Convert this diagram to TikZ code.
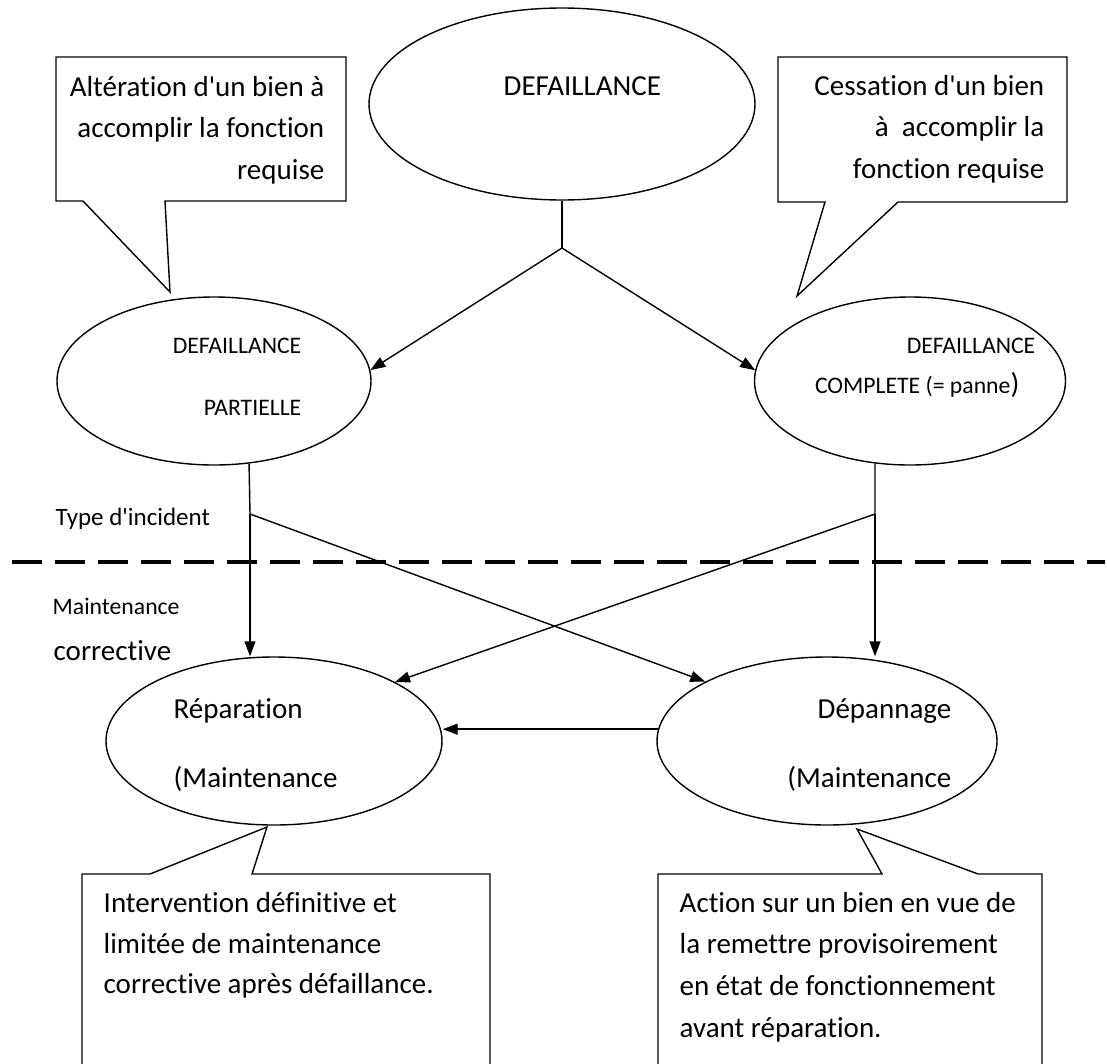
\documentclass[tikz,border=0pt]{standalone}
\usepackage{fontspec}
\setmainfont{Carlito}[Ligatures={NoCommon}]
\usetikzlibrary{arrows.meta,shapes.geometric}
\begin{document}
\begin{tikzpicture}[x=1pt,y=-1pt,
  line width=1.4pt,
  oval/.style={draw,ellipse,inner sep=0pt},
  big/.style={font=\fontsize{29}{41.5}\selectfont,inner sep=0pt},
  small/.style={font=\fontsize{23.7}{28}\selectfont,inner sep=0pt},
  arr/.style={-{Triangle[length=15pt,width=11pt]}},
  sep/.style={line width=4pt,dash pattern=on 30pt off 13pt}]
\useasboundingbox (0,0) rectangle (1107,1063);
\clip (0,0) rectangle (1107,1063);

% ellipses
\node[oval,minimum width=386pt,minimum height=192pt] (top) at (562,104) {};
\node[oval,minimum width=314pt,minimum height=168pt] (mL) at (214,381) {};
\node[oval,minimum width=311pt,minimum height=168pt] (mR) at (910,381) {};
\node[oval,minimum width=336pt,minimum height=168pt] (rep) at (274,741) {};
\node[oval,minimum width=340pt,minimum height=168pt] (dep) at (827,741) {};

% ellipse texts
\node[big,anchor=base west] (tTop) at (503,95) {DEFAILLANCE};
\node[small,anchor=base east] (tL1) at (302,353) {DEFAILLANCE};
\node[small,anchor=base east] (tL2) at (302,415) {PARTIELLE};
\node[small,anchor=base east] (tR1) at (1036,353) {DEFAILLANCE};
\node[small,anchor=base east] (tR2) at (1020,393) {COMPLETE (= panne{\fontsize{29}{35}\selectfont )}};
\node[big,anchor=base west] (tRep1) at (173,718) {Réparation};
\node[big,anchor=base west] (tRep2) at (173,787) {(Maintenance};
\node[big,anchor=base east] (tDep1) at (952,718) {Dépannage};
\node[big,anchor=base east] (tDep2) at (952,787) {(Maintenance};

% callouts
\draw (56,57) -- (346,57) -- (346,201) -- (165,201) -- (170,292) -- (83,201) -- (56,201) -- cycle;
\draw (778,57) -- (1067,57) -- (1067,202) -- (898,202) -- (797,296) -- (825,202) -- (778,202) -- cycle;
\draw (82,874) -- (150,874) -- (267,827) -- (252,874) -- (490,874) -- (490,1090) -- (82,1090) -- cycle;
\draw (658,874) -- (882,874) -- (857,829) -- (978,874) -- (1042,874) -- (1042,1090) -- (658,1090) -- cycle;

\node[big,anchor=base east] (c1a) at (325,96) {Altération d\textquotesingle un bien à};
\node[big,anchor=base east] (c1b) at (325,137) {accomplir la fonction};
\node[big,anchor=base east] (c1c) at (325,179) {requise};
\node[big,anchor=base east] (c2a) at (1045,95) {Cessation d\textquotesingle un bien};
\node[big,anchor=base east] (c2b) at (1045,136) {à\ \ accomplir la};
\node[big,anchor=base east] (c2c) at (1045,178) {fonction requise};
\node[big,anchor=base west] (c3a) at (103,912) {Intervention définitive et};
\node[big,anchor=base west] (c3b) at (103,953) {limitée de maintenance};
\node[big,anchor=base west] (c3c) at (103,993) {corrective après défaillance.};
\node[big,anchor=base west] (c4a) at (679,912) {Action sur un bien en vue de};
\node[big,anchor=base west] (c4b) at (679,953) {la remettre provisoirement};
\node[big,anchor=base west] (c4c) at (679,995) {en état de fonctionnement};
\node[big,anchor=base west] (c4d) at (679,1037) {avant réparation.};

% side labels and separator
\node[small,anchor=base west,font=\fontsize{25}{30}\selectfont] (lType) at (55,525) {Type d\textquotesingle incident};
\node[small,anchor=base west] (lMaint) at (52,614) {Maintenance};
\node[big,anchor=base west] (lCorr) at (53,660) {corrective};
\draw[sep] (12,562) -- (1105,562);

% connectors
\coordinate (j0) at (562,248);
\draw (top.south) -- (j0);
\draw[arr] (j0) -- (mL.4);
\draw[arr] (j0) -- (mR.176);

\coordinate (jL) at (250,514);
\coordinate (jR) at (875,514);
\draw (mL.-67) -- (jL);
\draw (mR.-113) -- (jR);
\draw[arr] (jL) -- (rep.north -| jL);
\draw[arr] (jR) -- (dep.north -| jR);
\draw[arr] (jL) -- (dep.154);
\draw[arr] (jR) -- (rep.26);
\draw[arr] (dep.176) -- (dep.176 -| rep.east);
\end{tikzpicture}
\end{document}
